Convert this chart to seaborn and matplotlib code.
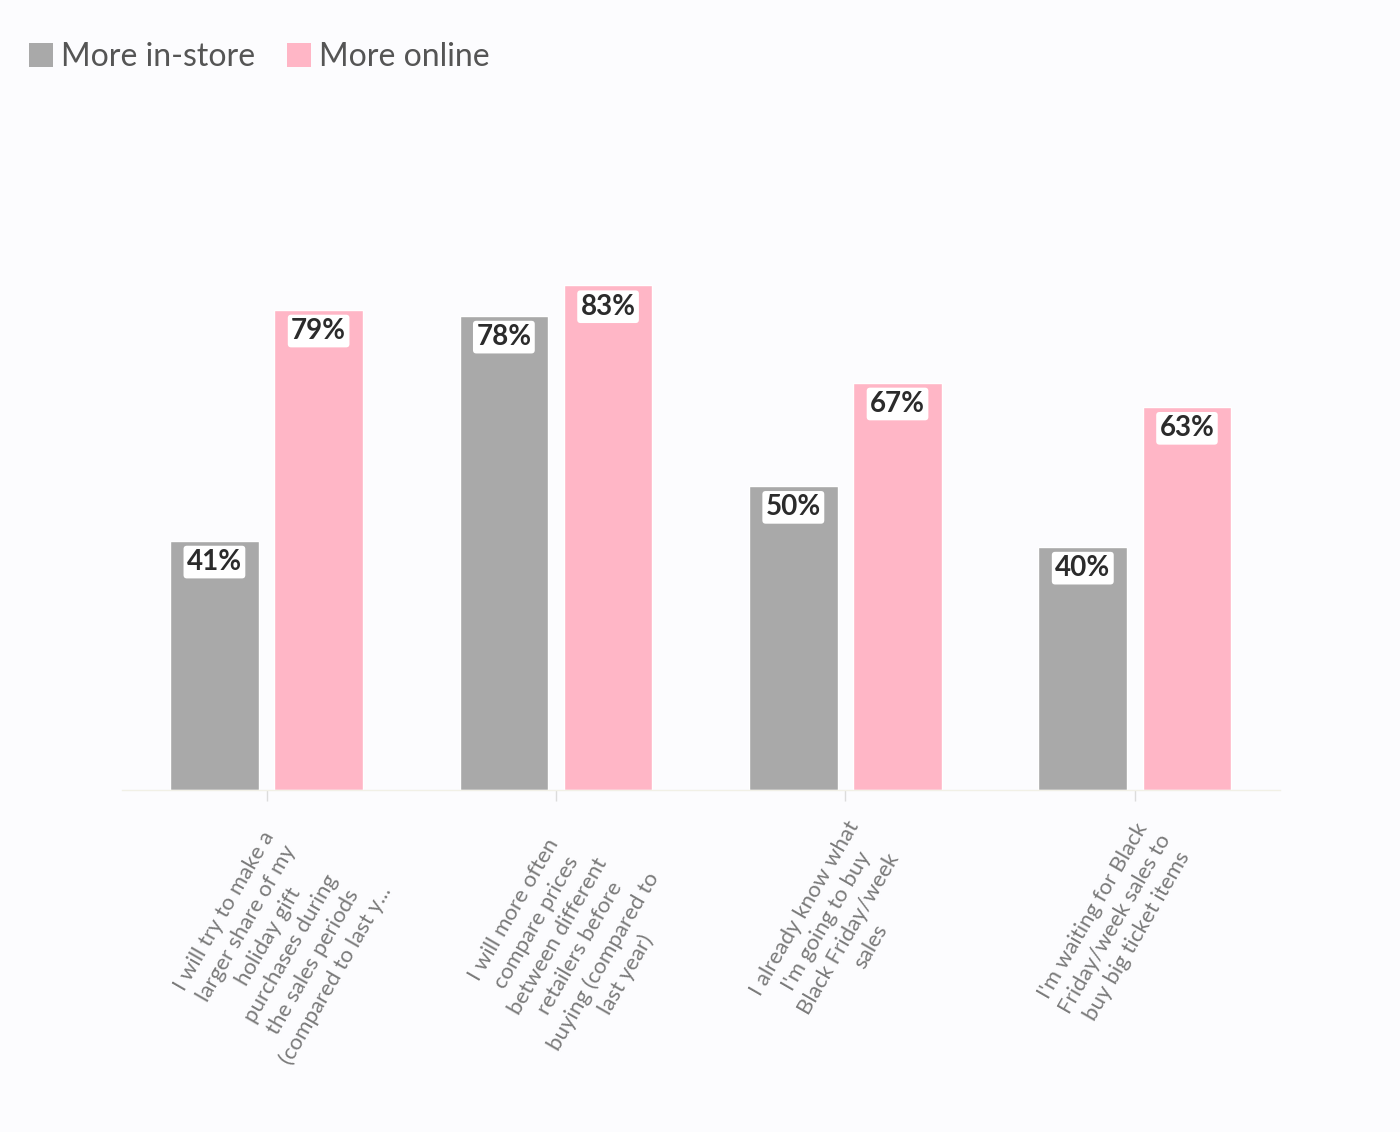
import pandas as pd
import matplotlib.pyplot as plt
from matplotlib.patches import Patch
import seaborn as sns

# Survey statements (already wrapped the way the chart shows them)
statements = [
    "I will try to make a\nlarger share of my\nholiday gift\npurchases during\nthe sales periods\n(compared to last y...",
    "I will more often\ncompare prices\nbetween different\nretailers before\nbuying (compared to\nlast year)",
    "I already know what\nI'm going to buy\nBlack Friday/week\nsales",
    "I'm waiting for Black\nFriday/week sales to\nbuy big ticket items",
]
in_store = [41, 78, 50, 40]
online = [79, 83, 67, 63]
channels = ['More in-store', 'More online']

gray = '#a9a9a9'
pink = '#ffb6c6'
bg = '#fcfcfe'

# Long-format table for seaborn
df = pd.DataFrame({
    'statement': statements * 2,
    'share': in_store + online,
    'channel': [channels[0]] * 4 + [channels[1]] * 4,
})

sns.set_style('white')
plt.rcParams['font.family'] = ['Lato', 'DejaVu Sans']

fig = plt.figure(figsize=(14, 11.32), dpi=100, facecolor=bg)
ax = fig.add_axes([0.087, 0.3021, 0.827, 0.5371], facecolor=bg)

sns.barplot(data=df, x='statement', y='share', hue='channel',
            palette=[gray, pink], width=0.72, gap=0.15,
            saturation=1, legend=False, ax=ax)

ax.set_xlim(-0.5, 3.5)
ax.set_ylim(0, 100)
ax.set_xlabel('')
ax.set_ylabel('')
ax.set_yticks([])

# Value labels inside the top of each bar
for cont in ax.containers:
    for bar in cont:
        h = bar.get_height()
        ax.annotate(f'{h:.0f}%', (bar.get_x() + bar.get_width() / 2, h),
                    xytext=(0, -6), textcoords='offset points',
                    ha='center', va='top', fontsize=20, fontweight='bold',
                    color='#2b2b2b',
                    bbox=dict(boxstyle='round,pad=0.12', fc='white', ec='none'))

for s in ['top', 'right', 'left']:
    ax.spines[s].set_visible(False)
ax.spines['bottom'].set_color('#f1f0e6')
ax.spines['bottom'].set_linewidth(1)

ax.set_xticks(range(4))
ax.set_xticklabels(statements, rotation=60, ha='right', va='top',
                   rotation_mode='anchor', multialignment='center',
                   fontsize=16, color='#7a7a7a', linespacing=1.35)
ax.tick_params(axis='x', length=8, width=1, color='#dcdcdc', pad=12, bottom=True)

handles = [Patch(facecolor=gray, edgecolor='none'), Patch(facecolor=pink, edgecolor='none')]
fig.legend(handles, channels, loc='upper left', bbox_to_anchor=(0.0, 0.988),
           ncol=2, frameon=False, fontsize=23, labelcolor='#555555',
           handlelength=0.75, handleheight=0.75, handletextpad=0.25,
           columnspacing=1.0)

fig.savefig('out.png', dpi=100, facecolor=bg)
